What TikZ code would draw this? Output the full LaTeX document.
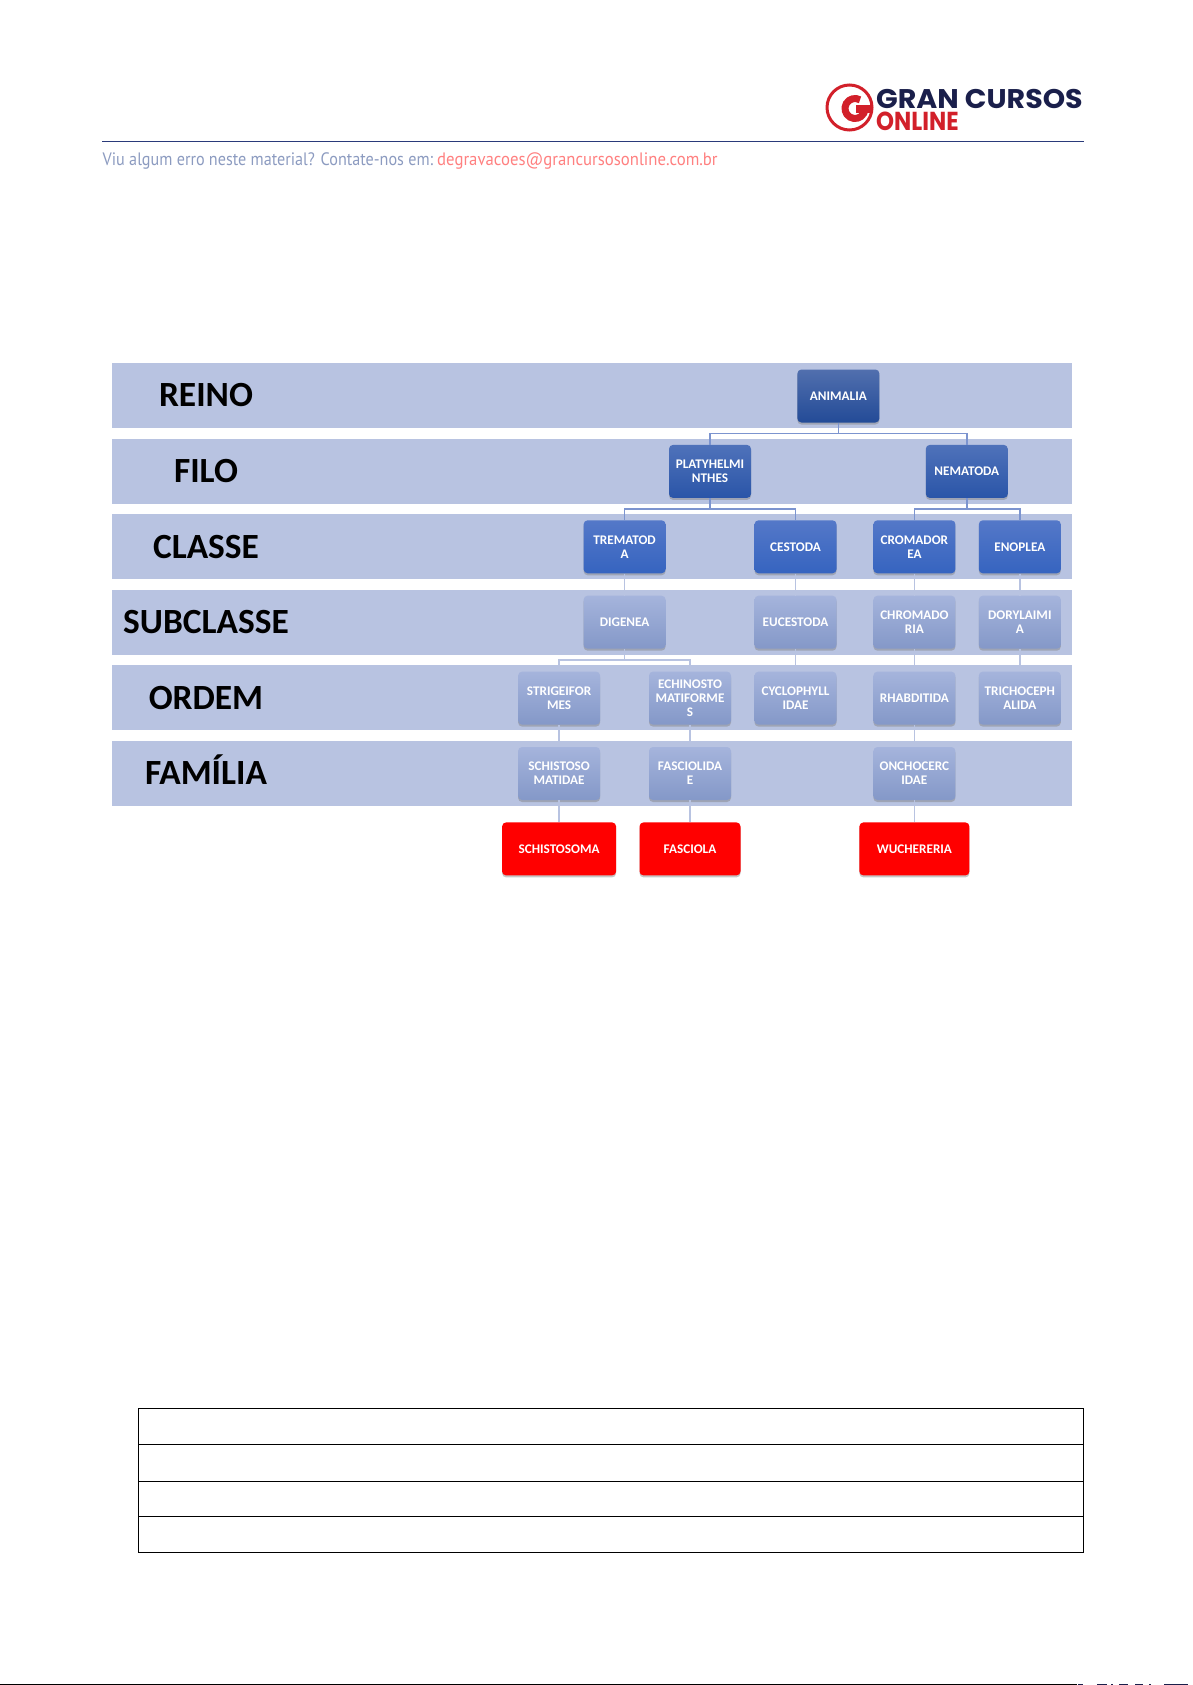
\documentclass[tikz,border=0pt]{standalone}
\usepackage{fontspec}
\setmainfont{Carlito}
\newfontfamily\headfont{PT Sans}
\newfontfamily\logofont{Poppins}
\usetikzlibrary{positioning,shadows}
\definecolor{bandblue}{HTML}{B8C3E1}
\definecolor{linkdark}{HTML}{7C94CF}
\definecolor{navy}{HTML}{1A1F4B}
\definecolor{rulenavy}{HTML}{2A3A7A}
\definecolor{logored}{HTML}{D2202A}
\definecolor{headgray}{HTML}{8C9BC0}
\definecolor{headpink}{HTML}{FF8080}
\definecolor{rowAtop}{HTML}{516FAE}
\definecolor{rowAbot}{HTML}{234B97}
\definecolor{rowBtop}{HTML}{4F72BA}
\definecolor{rowBbot}{HTML}{2A55A8}
\definecolor{rowCtop}{HTML}{5478C8}
\definecolor{rowCbot}{HTML}{3664C0}
\definecolor{rowLtop}{HTML}{A5B4DC}
\definecolor{rowLbot}{HTML}{8498C8}
\tikzset{
  band/.style={fill=bandblue,minimum width=960pt,minimum height=65pt,inner sep=0pt,outer sep=0pt,anchor=north west},
  bandlabel/.style={font=\bfseries\fontsize{35.4}{38}\selectfont,text=black,inner sep=0pt,text height=22.8pt,text depth=0pt},
  taxon/.style={rounded corners=4pt,minimum width=82pt,minimum height=53pt,inner sep=0pt,align=center,
    text=white,font=\bfseries\fontsize{13.2}{14}\selectfont,drop shadow={shadow xshift=0pt,shadow yshift=-2pt,opacity=.45}},
  rowA/.style={taxon,top color=rowAtop,bottom color=rowAbot},
  rowB/.style={taxon,top color=rowBtop,bottom color=rowBbot},
  rowC/.style={taxon,top color=rowCtop,bottom color=rowCbot},
  rowL/.style={taxon,top color=rowLtop,bottom color=rowLbot},
  genus/.style={taxon,fill=red},
  linkA/.style={linkdark,line width=1.5pt},
  linkL/.style={bandblue,line width=1.5pt},
}

\begin{document}
\begin{tikzpicture}[x=1pt,y=-1pt]
\useasboundingbox (0,0) rectangle (1192,1685);

% logo and header
\node[circle,draw=logored,line width=3pt,minimum size=45pt,inner sep=0pt] (LOGO) at (849.5,107.5) {};
\draw[logored,line width=7pt] ([shift={(5.5pt,-1pt)}]LOGO.center) ++(60:10pt) arc[start angle=60,end angle=360,radius=10pt];
\fill[logored] ([shift={(6pt,2pt)}]LOGO.center) rectangle ([shift={(22pt,-5.5pt)}]LOGO.center);
\node[anchor=base west,inner sep=0pt,text=navy,font=\logofont\bfseries\fontsize{27}{27}\selectfont] (GRAN) at (876,108.5) {\scalebox{1.055}[1]{GRAN CURSOS}};
\node[anchor=base west,inner sep=0pt,text=logored,font=\logofont\bfseries\fontsize{26}{26}\selectfont] (ONLINE) at (876,130.5) {\scalebox{.88}[1]{ONLINE}};
\draw[rulenavy,line width=1pt] (102,142) -- (1084,142);
\node[anchor=base west,inner sep=0pt,text=headgray,font=\headfont\fontsize{18}{20}\selectfont] (VIU) at (102.5,166) {\scalebox{.898}[1]{Viu algum erro neste material? Contate-nos em:}};
\node[anchor=base west,inner sep=0pt,text=headpink,font=\headfont\fontsize{18}{20}\selectfont] (MAIL) at (437,166) {\scalebox{.93}[1]{degravacoes@grancursosonline.com.br}};

% bands
\node[band] (B1) at (112,363) {};
\node[band,below=10.6pt of B1] (B2) {};
\node[band,below=10.6pt of B2] (B3) {};
\node[band,below=10.6pt of B3] (B4) {};
\node[band,below=10.6pt of B4] (B5) {};
\node[band,below=10.6pt of B5] (B6) {};

\node[bandlabel] (REINO) at ([xshift=94pt]B1.west) {REINO};
\node[bandlabel] (FILO) at ([xshift=94pt]B2.west) {FILO};
\node[bandlabel] (CLASSE) at ([xshift=94pt]B3.west) {CLASSE};
\node[bandlabel] (SUBCLASSE) at ([xshift=94pt]B4.west) {SUBCLASSE};
\node[bandlabel] (ORDEM) at ([xshift=94pt]B5.west) {ORDEM};
\node[bandlabel] (FAMILIA) at ([xshift=94pt]B6.west) {FAMÍLIA};

% tree
\node[rowA] (ANI) at (838.4,396) {ANIMALIA};

\node[rowB,below left=22pt and 46pt of ANI] (PLA) {PLATYHELMI\\NTHES};
\node[rowB,below right=22pt and 46pt of ANI] (NEM) {NEMATODA};

\node[rowC,below left=22pt and 3pt of PLA] (TRE) {TREMATOD\\A};
\node[rowC,right=88.5pt of TRE] (CES) {CESTODA};
\node[rowC,right=36.5pt of CES] (CRO) {CROMADOR\\EA};
\node[rowC,right=23pt of CRO] (ENO) {ENOPLEA};

\node[rowL,below=22pt of TRE] (DIG) {DIGENEA};
\node[rowL,below=22pt of CES] (EUC) {EUCESTODA};
\node[rowL,below=22pt of CRO] (CHR) {CHROMADO\\RIA};
\node[rowL,below=22pt of ENO] (DOR) {DORYLAIMI\\A};

\node[rowL,below=22.5pt of DIG,xshift=-65.5pt] (STR) {STRIGEIFOR\\MES};
\node[rowL,right=48.5pt of STR] (ECH) {ECHINOSTO\\MATIFORME\\S};
\node[rowL,below=22.5pt of EUC] (CYC) {CYCLOPHYLL\\IDAE};
\node[rowL,below=22.5pt of CHR] (RHA) {RHABDITIDA};
\node[rowL,below=22.5pt of DOR] (TRI) {TRICHOCEPH\\ALIDA};

\node[rowL,below=22pt of STR] (SCH) {SCHISTOSO\\MATIDAE};
\node[rowL,below=22pt of ECH] (FAS) {FASCIOLIDA\\E};
\node[rowL,below=22pt of RHA] (ONC) {ONCHOCERC\\IDAE};

\node[genus,minimum width=114pt,below=22pt of SCH] (SCM) {SCHISTOSOMA};
\node[genus,minimum width=101pt,below=22pt of FAS] (FAC) {FASCIOLA};
\node[genus,minimum width=110pt,below=22pt of ONC] (WUC) {WUCHERERIA};

\draw[linkA] (ANI.south) -- ([yshift=-11pt]ANI.south);
\draw[linkA] (PLA.north) |- ([yshift=-11pt]ANI.south) -| (NEM.north);
\draw[linkA] (PLA.south) -- ([yshift=-11pt]PLA.south);
\draw[linkA] (TRE.north) |- ([yshift=-11pt]PLA.south) -| (CES.north);
\draw[linkA] (NEM.south) -- ([yshift=-11pt]NEM.south);
\draw[linkA] (CRO.north) |- ([yshift=-11pt]NEM.south) -| (ENO.north);
\draw[linkL] (DIG.south) -- ([yshift=-11pt]DIG.south);
\draw[linkL] (STR.north) |- ([yshift=-11pt]DIG.south) -| (ECH.north);
\draw[linkL] (TRE) -- (DIG);
\draw[linkL] (CES) -- (EUC);
\draw[linkL] (CRO) -- (CHR);
\draw[linkL] (ENO) -- (DOR);
\draw[linkL] (EUC) -- (CYC);
\draw[linkL] (CHR) -- (RHA);
\draw[linkL] (DOR) -- (TRI);
\draw[linkL] (STR) -- (SCH);
\draw[linkL] (ECH) -- (FAS);
\draw[linkL] (RHA) -- (ONC);
\draw[linkL] (SCH) -- (SCM);
\draw[linkL] (FAS) -- (FAC);
\draw[linkL] (ONC) -- (WUC);

% empty table
\draw[black,line width=1pt] (138,1408) rectangle (1083,1552);
\foreach \Y in {1444,1481,1516}
{\draw[black,line width=1pt] (138,\Y) -- (1083,\Y);}
\draw[black,line width=1.5pt] (0,1684.3) -- (1077,1684.3);
\draw[navy,line width=1.5pt,dash pattern=on 5pt off 14pt on 10pt off 4pt on 2pt off 6pt on 9pt off 7pt on 8pt off 6pt on 2pt off 13pt on 24pt] (1078,1684.3) -- (1192,1684.3);

\end{tikzpicture}
\end{document}
